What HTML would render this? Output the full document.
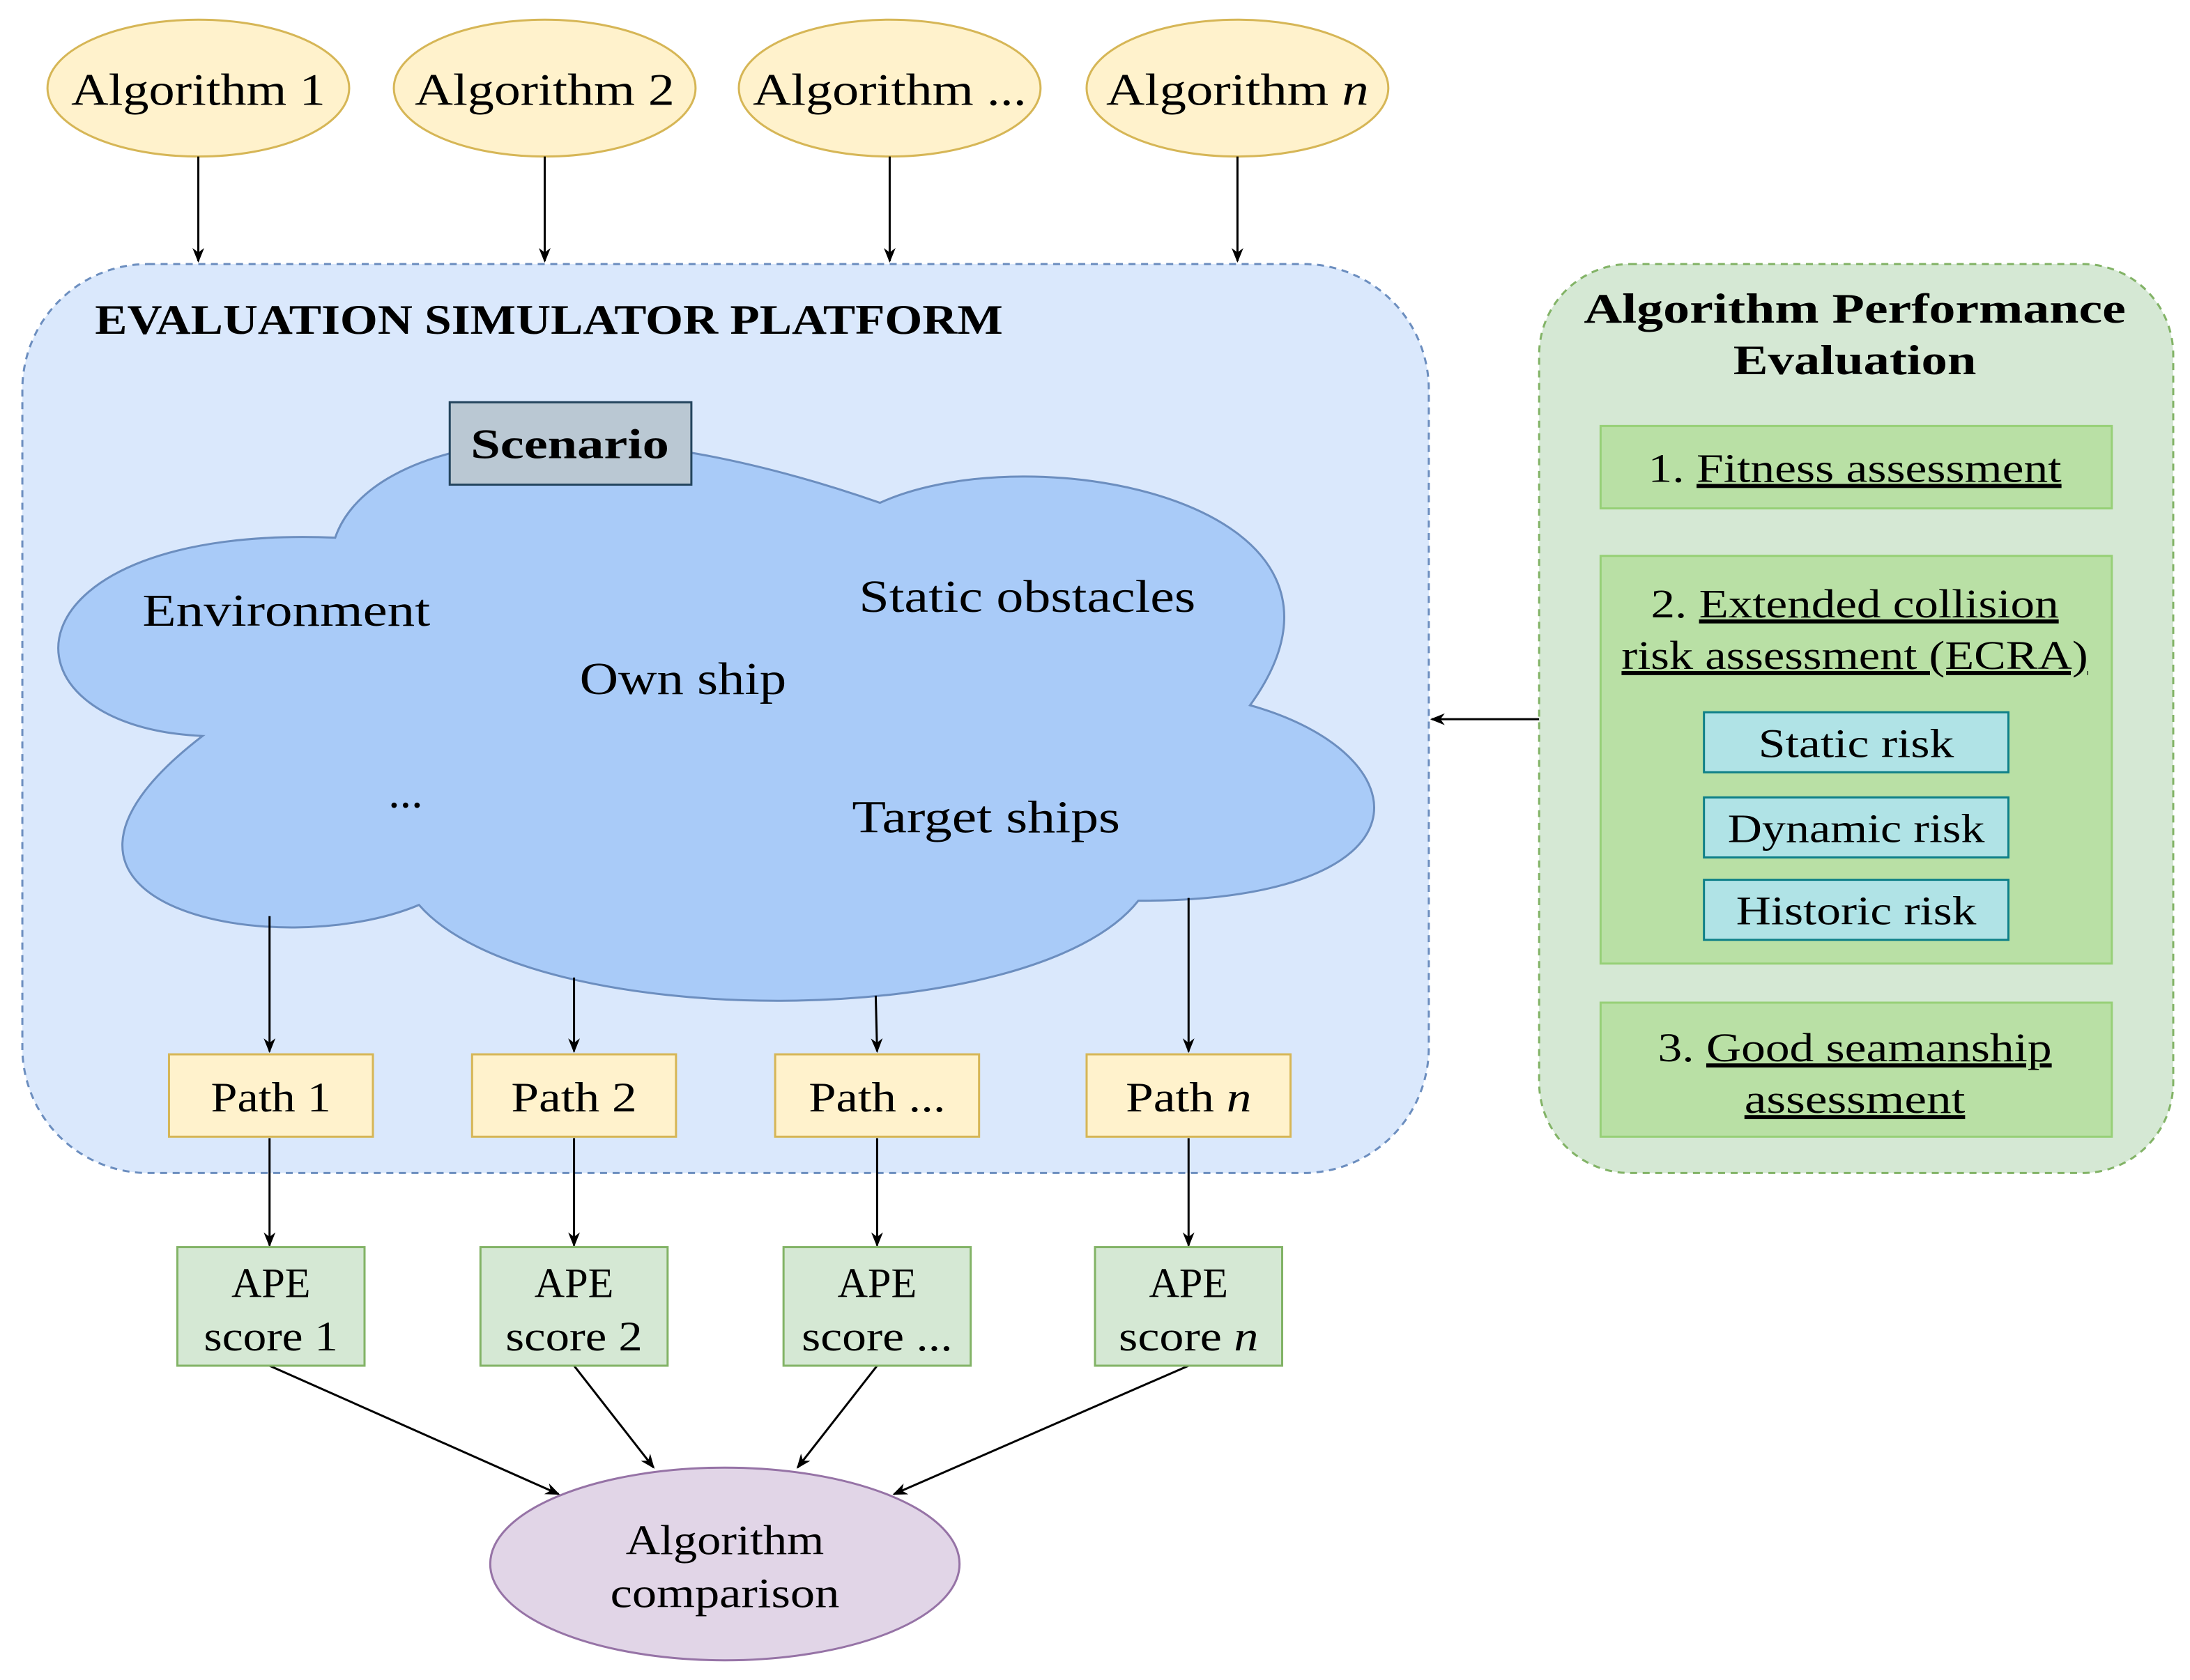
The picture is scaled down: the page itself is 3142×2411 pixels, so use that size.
<!DOCTYPE html>
<html><head><meta charset="utf-8"><style>html,body{margin:0;padding:0;background:#fff}svg{display:block}text{font-family:"Liberation Serif",serif;fill:#000}</style></head><body>
<svg width="3142" height="2411" viewBox="0 0 1568 1203" xmlns="http://www.w3.org/2000/svg">
<defs><marker id="a" viewBox="0 0 10 10" refX="9" refY="5" markerWidth="7" markerHeight="7" orient="auto-start-reverse"><path d="M0,1 L10,5 L0,9 L3,5 Z" fill="#000"/></marker></defs>
<g font-size="32" text-anchor="middle">
<g fill="#fff2cc" stroke="#d6b656" stroke-width="1.5">
<ellipse cx="142" cy="63" rx="108" ry="49"/><ellipse cx="390" cy="63" rx="108" ry="49"/><ellipse cx="637" cy="63" rx="108" ry="49"/><ellipse cx="886" cy="63" rx="108" ry="49"/></g>
<text x="142" y="75" textLength="182" lengthAdjust="spacingAndGlyphs">Algorithm 1</text><text x="390" y="75" textLength="186" lengthAdjust="spacingAndGlyphs">Algorithm 2</text><text x="637" y="75" textLength="196" lengthAdjust="spacingAndGlyphs">Algorithm ...</text><text x="886" y="75" textLength="188" lengthAdjust="spacingAndGlyphs">Algorithm <tspan font-style="italic">n</tspan></text>
</g>
<g stroke="#000" stroke-width="1.5" marker-end="url(#a)">
<line x1="142" y1="112" x2="142" y2="187"/><line x1="390" y1="112" x2="390" y2="187"/><line x1="637" y1="112" x2="637" y2="187"/><line x1="886" y1="112" x2="886" y2="187"/></g>
<rect x="16" y="189" width="1007" height="651" rx="90" fill="#dae8fc" stroke="#6c8ebf" stroke-width="1.5" stroke-dasharray="5,4"/>
<text x="68" y="239" font-size="30" font-weight="bold" textLength="650" lengthAdjust="spacingAndGlyphs">EVALUATION SIMULATOR PLATFORM</text>
<path d="M240,385 C262,320 400,280 630,360 C740,310 1000,360 895,505 C1020,540 1030,645 815,645 C740,740 380,740 300,648 C200,690 -15,650 145,527 C-10,520 0,375 240,385 Z" fill="#a9cbf8" stroke="#6c8ebf" stroke-width="1.5"/>
<rect x="322" y="288" width="173" height="59" fill="#bac8d3" stroke="#23445d" stroke-width="1.5"/>
<text x="408" y="328" font-size="30" font-weight="bold" text-anchor="middle" textLength="142" lengthAdjust="spacingAndGlyphs">Scenario</text>
<g font-size="33">
<text x="102" y="448" textLength="206" lengthAdjust="spacingAndGlyphs">Environment</text><text x="615" y="438" textLength="241" lengthAdjust="spacingAndGlyphs">Static obstacles</text><text x="415" y="497" textLength="148" lengthAdjust="spacingAndGlyphs">Own ship</text><text x="278" y="578">...</text><text x="610" y="596" textLength="192" lengthAdjust="spacingAndGlyphs">Target ships</text></g>
<g stroke="#000" stroke-width="1.5" marker-end="url(#a)">
<line x1="193" y1="656" x2="193" y2="753"/><line x1="411" y1="700" x2="411" y2="753"/><line x1="627" y1="713" x2="628" y2="753"/><line x1="851" y1="643" x2="851" y2="753"/>
<line x1="193" y1="815" x2="193" y2="892"/><line x1="411" y1="815" x2="411" y2="892"/><line x1="628" y1="815" x2="628" y2="892"/><line x1="851" y1="815" x2="851" y2="892"/>
<line x1="193" y1="978" x2="400" y2="1070"/><line x1="411" y1="978" x2="468" y2="1051"/><line x1="628" y1="978" x2="571" y2="1051"/><line x1="851" y1="978" x2="640" y2="1070"/>
<line x1="1102" y1="515" x2="1025" y2="515"/></g>
<g fill="#fff2cc" stroke="#d6b656" stroke-width="1.5">
<rect x="121" y="755" width="146" height="59"/><rect x="338" y="755" width="146" height="59"/><rect x="555" y="755" width="146" height="59"/><rect x="778" y="755" width="146" height="59"/></g>
<g font-size="30" text-anchor="middle">
<text x="194" y="796" textLength="86" lengthAdjust="spacingAndGlyphs">Path 1</text><text x="411" y="796" textLength="90" lengthAdjust="spacingAndGlyphs">Path 2</text><text x="628" y="796" textLength="98" lengthAdjust="spacingAndGlyphs">Path ...</text><text x="851" y="796" textLength="90" lengthAdjust="spacingAndGlyphs">Path <tspan font-style="italic">n</tspan></text></g>
<g fill="#d5e8d4" stroke="#82b366" stroke-width="1.5">
<rect x="127" y="893" width="134" height="85"/><rect x="344" y="893" width="134" height="85"/><rect x="561" y="893" width="134" height="85"/><rect x="784" y="893" width="134" height="85"/></g>
<g font-size="30" text-anchor="middle">
<text x="194" y="929">APE</text><text x="194" y="967" textLength="96" lengthAdjust="spacingAndGlyphs">score 1</text>
<text x="411" y="929">APE</text><text x="411" y="967" textLength="98" lengthAdjust="spacingAndGlyphs">score 2</text>
<text x="628" y="929">APE</text><text x="628" y="967" textLength="108" lengthAdjust="spacingAndGlyphs">score ...</text>
<text x="851" y="929">APE</text><text x="851" y="967" textLength="100" lengthAdjust="spacingAndGlyphs">score <tspan font-style="italic">n</tspan></text></g>
<ellipse cx="519" cy="1120" rx="168" ry="69" fill="#e1d5e7" stroke="#9673a6" stroke-width="1.5"/>
<text x="519" y="1113" font-size="30" text-anchor="middle" textLength="142" lengthAdjust="spacingAndGlyphs">Algorithm</text><text x="519" y="1151" font-size="30" text-anchor="middle" textLength="164" lengthAdjust="spacingAndGlyphs">comparison</text>
<rect x="1102" y="189" width="454" height="651" rx="65" fill="#d5e8d4" stroke="#82b366" stroke-width="1.5" stroke-dasharray="5,4"/>
<text x="1328" y="231" font-size="30" font-weight="bold" text-anchor="middle" textLength="388" lengthAdjust="spacingAndGlyphs">Algorithm Performance</text>
<text x="1328" y="268" font-size="30" font-weight="bold" text-anchor="middle" textLength="174" lengthAdjust="spacingAndGlyphs">Evaluation</text>
<g fill="#b9e0a5" stroke="#97d077" stroke-width="1.5">
<rect x="1146" y="305" width="366" height="59"/><rect x="1146" y="398" width="366" height="292"/><rect x="1146" y="718" width="366" height="96"/></g>
<g font-size="29" text-anchor="middle">
<text x="1328" y="345" textLength="296" lengthAdjust="spacingAndGlyphs">1. <tspan text-decoration="underline">Fitness assessment</tspan></text>
<text x="1328" y="442" textLength="292" lengthAdjust="spacingAndGlyphs">2. <tspan text-decoration="underline">Extended collision</tspan></text>
<text x="1328" y="479" text-decoration="underline" textLength="334" lengthAdjust="spacingAndGlyphs">risk assessment (ECRA)</text>
<text x="1328" y="760" textLength="282" lengthAdjust="spacingAndGlyphs">3. <tspan text-decoration="underline">Good seamanship</tspan></text>
<text x="1328" y="797" text-decoration="underline" textLength="158" lengthAdjust="spacingAndGlyphs">assessment</text></g>
<g fill="#b0e3e6" stroke="#0e8088" stroke-width="1.5">
<rect x="1220" y="510" width="218" height="43"/><rect x="1220" y="571" width="218" height="43"/><rect x="1220" y="630" width="218" height="43"/></g>
<g font-size="29" text-anchor="middle">
<text x="1329" y="542" textLength="140" lengthAdjust="spacingAndGlyphs">Static risk</text><text x="1329" y="603" textLength="184" lengthAdjust="spacingAndGlyphs">Dynamic risk</text><text x="1329" y="662" textLength="172" lengthAdjust="spacingAndGlyphs">Historic risk</text></g>
</svg>
</body></html>
